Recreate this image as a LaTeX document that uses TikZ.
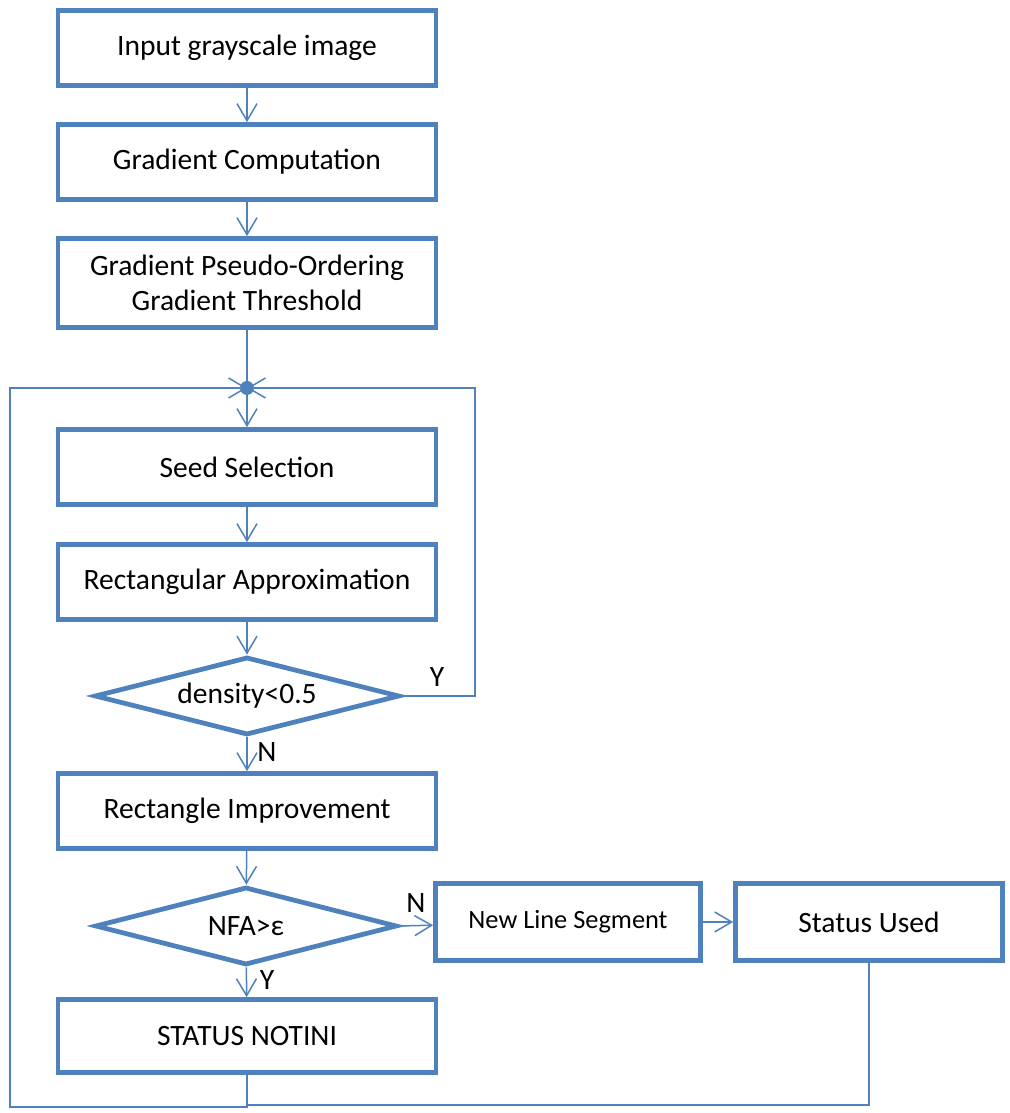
\documentclass[tikz,border=0pt]{standalone}
\usepackage{fontspec}
\setmainfont{Carlito}
\usetikzlibrary{shapes.geometric,arrows.meta}
\definecolor{lsdblue}{RGB}{79,129,189}
\tikzset{
	stepbox/.style={draw=lsdblue, line width=0.095cm, fill=white, minimum width=7.56cm, minimum height=1.5cm, align=center, font=\fontsize{16.8}{19.5}\selectfont},
	testbox/.style={diamond, aspect=4, draw=lsdblue, line width=0.095cm, fill=white, minimum width=6.1cm, minimum height=1.56cm, inner sep=0pt, font=\fontsize{16.8}{19.5}\selectfont},
	flow/.style={draw=lsdblue, line width=0.03cm, -{Straight Barb[length=0.34cm, width=0.4cm]}},
	link/.style={draw=lsdblue, line width=0.03cm},
	yn/.style={font=\fontsize{16.8}{19.5}\selectfont}
}
\begin{document}
\begin{tikzpicture}
		\useasboundingbox (0,0) rectangle (20.18,22.26);
		%Main column
		\node[stepbox] (in) at (4.94,21.30) {Input grayscale image};
		\node[stepbox] (grad) at (4.94,19.02) {Gradient Computation};
		\node[stepbox, minimum height=1.78cm] (order) at (4.94,16.60) {Gradient Pseudo-Ordering\\Gradient Threshold};
		\node[stepbox] (seed) at (4.94,12.92) {Seed Selection};
		\node[stepbox] (rect) at (4.94,10.62) {Rectangular Approximation};
		\node[testbox] (dens) at (4.94,8.34) {density<0.5};
		\node[stepbox] (impr) at (4.94,6.04) {Rectangle Improvement};
		\node[testbox, minimum width=6.04cm] (nfa) at (4.92,3.74) {NFA>ε};
		\node[stepbox, minimum height=1.46cm] (notini) at (4.94,1.54) {STATUS NOTINI};
		
		%Output
		\node[stepbox, minimum width=5.3cm, minimum height=1.54cm, font=\fontsize{15}{18}\selectfont] (nls) at (11.36,3.82) {New Line Segment};
		\node[stepbox, minimum width=5.34cm, minimum height=1.54cm] (used) at (17.38,3.82) {Status Used};
		
		%Loop corners
		\coordinate (join) at (4.94,14.50);
		\coordinate (yr) at (9.50,8.34);
		\coordinate (yt) at (9.50,14.50);
		\coordinate (bl) at (0.20,0.12);
		\coordinate (tl) at (0.20,14.50);
		\coordinate (nb) at (4.94,0.12);
		\coordinate (ub) at (4.94,0.16);

		%connections
		\draw[flow] (in) -- (grad);
		\draw[flow] (grad) -- (order);
		\draw[link] (order) -- (join);
		\draw[flow] (join) -- (seed);
		\draw[flow] (seed) -- (rect);
		\draw[flow] (rect) -- (dens);
		\draw[flow] (dens) -- (impr);
		\draw[flow] (impr) -- (nfa);
		\draw[flow] (nfa) -- (notini);
		\draw[flow] (nfa.east) -- (nls);
		\draw[flow] (nls) -- (used);
		
		%loops
		\draw[flow] (dens.east) -- (yr) -- (yt) -- (join);
		\draw[flow] (notini) -- (nb) -- (bl) -- (tl) -- (join);
		\draw[link] (used) -- (used |- ub) -- (ub);
		\fill[lsdblue] (join) circle (0.14);
		
		%labels
		\node[yn] (ly1) at (8.74,8.72) {Y};
		\node[yn] (ln1) at (5.34,7.22) {N};
		\node[yn] (ln2) at (8.32,4.20) {N};
		\node[yn] (ly2) at (5.34,2.66) {Y};
		
	\end{tikzpicture}
\end{document}
